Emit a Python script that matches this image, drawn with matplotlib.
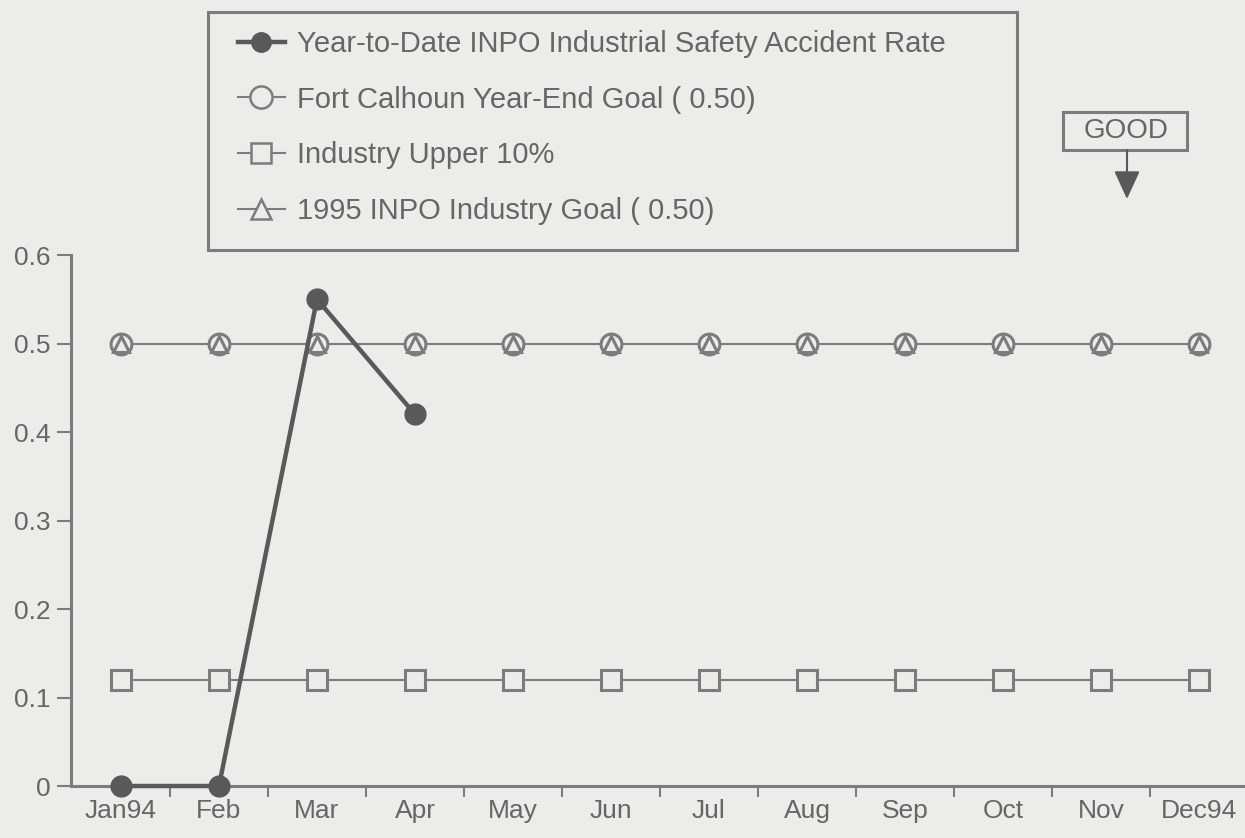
import matplotlib
matplotlib.use("Agg")
import matplotlib.pyplot as plt
from matplotlib.lines import Line2D
from matplotlib.patches import Rectangle, FancyArrowPatch

months = ["Jan94", "Feb", "Mar", "Apr", "May", "Jun", "Jul", "Aug", "Sep", "Oct", "Nov", "Dec94"]
ytd_rate = [0.0, 0.0, 0.55, 0.42]
fc_goal = [0.50] * 12
upper10 = [0.12] * 12
inpo_goal = [0.50] * 12

BG = "#ececea"
DARK = "#595959"
MID = "#7c7c7c"
TXT = "#666666"
W, H = 1245, 838

plt.rcParams["font.family"] = ["Liberation Sans", "DejaVu Sans"]

fig = plt.figure(figsize=(W / 100, H / 100), dpi=100, facecolor=BG)
ax = fig.add_axes([71 / W, 52 / H, 1 - 71 / W, (786 - 255) / H], facecolor=BG)

x = list(range(len(months)))
ax.plot(x, upper10, color=MID, lw=1.5, marker="s", ms=15, mfc=BG, mec=MID, mew=2.2, zorder=2)
ax.plot(x, fc_goal, color=MID, lw=1.5, marker="o", ms=15, mfc=BG, mec=MID, mew=2.2, zorder=2)
ax.plot(x, inpo_goal, color=MID, lw=0, marker="^", ms=12, mfc="none", mec=MID, mew=2.2, zorder=3)
ax.plot(x[:len(ytd_rate)], ytd_rate, color=DARK, lw=3.2, marker="o", ms=15, mfc=DARK, mec=DARK,
        zorder=4, clip_on=False)

ax.set_xlim(-0.51, 11.47)
ax.set_ylim(0, 0.6)
ax.set_yticks([0, 0.1, 0.2, 0.3, 0.4, 0.5, 0.6])
ax.set_yticklabels(["0", "0.1", "0.2", "0.3", "0.4", "0.5", "0.6"])
ax.set_xticks(x)
ax.set_xticklabels(months)
ax.set_xticks([i + 0.5 for i in range(11)], minor=True)
ax.tick_params(axis="x", which="major", length=0, labelsize=19, labelcolor=TXT, pad=9)
ax.tick_params(axis="x", which="minor", direction="out", length=8, width=1.5, colors=MID)
ax.tick_params(axis="y", direction="out", length=10, width=1.5, colors=MID, labelcolor=TXT,
               labelsize=19, pad=5)
for s in ["top", "right"]:
    ax.spines[s].set_visible(False)
for s in ["left", "bottom"]:
    ax.spines[s].set_color(MID)
    ax.spines[s].set_linewidth(2.2)

handles = [
    Line2D([], [], color=DARK, lw=3.2, marker="o", ms=14, mfc=DARK, mec=DARK),
    Line2D([], [], color=MID, lw=1.5, marker="o", ms=16, mfc=BG, mec=MID, mew=1.8),
    Line2D([], [], color=MID, lw=1.5, marker="s", ms=15, mfc=BG, mec=MID, mew=1.8),
    Line2D([], [], color=MID, lw=1.5, marker="^", ms=14, mfc=BG, mec=MID, mew=1.8),
]
labels = [
    "Year-to-Date INPO Industrial Safety Accident Rate",
    "Fort Calhoun Year-End Goal ( 0.50)",
    "Industry Upper 10%",
    "1995 INPO Industry Goal ( 0.50)",
]
fig.add_artist(Rectangle((208 / W, 1 - 250 / H), (1017 - 208) / W, (250 - 12) / H,
                         transform=fig.transFigure, fc=BG, ec=MID, lw=2.2))
fig.legend(handles, labels, loc="upper left", bbox_to_anchor=(238 / W, 1 - 30 / H),
           bbox_transform=fig.transFigure, frameon=False,
           fontsize=21, labelcolor=TXT, handlelength=1.6, handletextpad=0.43,
           labelspacing=0.95, borderpad=0, borderaxespad=0)

fig.add_artist(Rectangle((1063 / W, 1 - 150 / H), (1187 - 1063) / W, (150 - 112) / H,
                         transform=fig.transFigure, fc=BG, ec=MID, lw=2.2))
fig.text(1126 / W, 1 - 131 / H, "GOOD", ha="center", va="center", fontsize=20, color=TXT)
fig.add_artist(FancyArrowPatch(
    (1127 / W, 1 - 150 / H), (1127 / W, 1 - 199 / H), transform=fig.transFigure,
    arrowstyle="-|>,head_length=0.87,head_width=0.4", mutation_scale=20, color=DARK, lw=1.5,
    shrinkA=0, shrinkB=0))

fig.savefig("out.png", dpi=100, facecolor=BG)
